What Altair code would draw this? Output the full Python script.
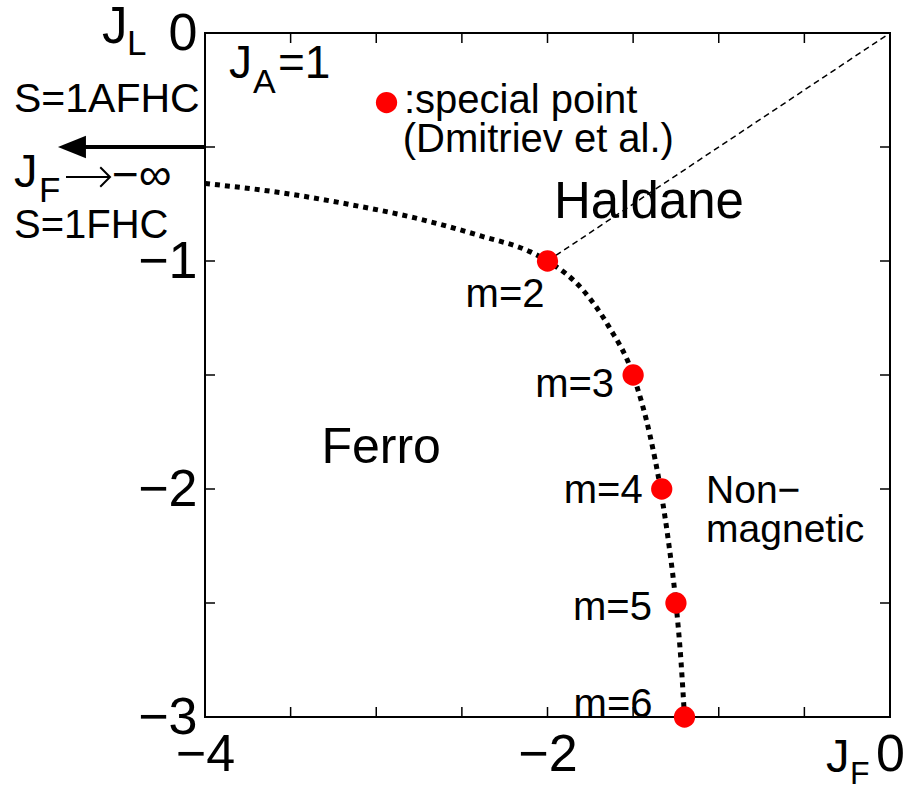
import altair as alt
import pandas as pd

FONT = "Liberation Sans"

# Phase boundary Ferro / (Haldane, non-magnetic)
boundary_jf = [-4.0, -3.56, -3.17, -2.78, -2.39, -2.10, -2.0, -1.79, -1.64,
               -1.50, -1.40, -1.34, -1.29, -1.25, -1.22, -1.20]
boundary_jl = [-0.66, -0.70, -0.75, -0.81, -0.89, -0.96, -1.0, -1.13, -1.29,
               -1.50, -1.77, -2.0, -2.25, -2.5, -2.76, -3.0]

# Haldane / non-magnetic border
haldane_jf = [-2.0, 0.0]
haldane_jl = [-1.0, 0.0]

# Special points (Dmitriev et al.)
special_m = ["m=2", "m=3", "m=4", "m=5", "m=6"]
special_jf = [-2.0, -1.5, -1.333, -1.25, -1.2]
special_jl = [-1.0, -1.5, -2.0, -2.5, -3.0]

# Legend marker
legend_jf = [-2.94]
legend_jl = [-0.305]

# Arrow towards J_F -> -inf at J_L = -0.5
arrow_jf = [-4.0, -4.72]
arrow_head_jf = [-4.777]
arrow_jl = [-0.5, -0.5]

# Axis ticks / labels
x_ticks = [-3.5, -3.0, -2.5, -2.0, -1.5, -1.0, -0.5]
y_ticks = [-0.5, -1.0, -1.5, -2.0, -2.5]
x_labels = [-4, -2, 0]
y_labels = [0, -1, -2, -3]

# In-plot text labels (data coordinates of the left end of the baseline)
region_text = ["Haldane", "Ferro", "Non\u2212", "magnetic",
               ":special point", "(Dmitriev et al.)"]
region_jf = [-1.962, -3.32, -1.074, -1.074, -2.838, -2.845]
region_jl = [-0.811, -1.886, -2.061, -2.232, -0.351, -0.52]
region_size = [51, 50, 39, 39, 40, 40]

# Pixel offsets of the m-labels relative to their points
M_OFFSET = {"m=2": (-3, 46), "m=3": (-19, 22), "m=4": (-19, 14),
            "m=5": (-24, 17), "m=6": (-32, 0)}

W, H = 685, 684
LEFT, TOP = 205, 33

xscale = alt.Scale(domain=[-4, 0], nice=False, zero=False)
yscale = alt.Scale(domain=[-3, 0], nice=False, zero=False)

xaxis = alt.Axis(values=x_labels, ticks=False, domain=False, grid=False,
                 labelFlush=False, labelOverlap=False, labelPadding=12,
                 labelFontSize=52, labelFont=FONT, labelColor="black",
                 format="d", title=None)
yaxis = alt.Axis(values=y_labels, ticks=False, domain=False, grid=False,
                 labelOverlap=False, labelPadding=8,
                 labelFontSize=52, labelFont=FONT, labelColor="black",
                 format="d", title=None)

X = alt.X("jf:Q", scale=xscale, axis=xaxis)
Y = alt.Y("jl:Q", scale=yscale, axis=yaxis)

layers = []

# inward ticks on all four sides
xt = pd.DataFrame({"jf": x_ticks})
yt = pd.DataFrame({"jl": y_ticks})
tick_style = dict(color="black", strokeWidth=1.5)
layers.append(alt.Chart(xt).mark_rule(**tick_style).encode(
    x=X, y=alt.value(0), y2=alt.value(10)))
layers.append(alt.Chart(xt).mark_rule(**tick_style).encode(
    x=X, y=alt.value(H - 10), y2=alt.value(H)))
layers.append(alt.Chart(yt).mark_rule(**tick_style).encode(
    y=Y, x=alt.value(0), x2=alt.value(10)))
layers.append(alt.Chart(yt).mark_rule(**tick_style).encode(
    y=Y, x=alt.value(W - 10), x2=alt.value(W)))

# Haldane border (thin dashed)
layers.append(alt.Chart(pd.DataFrame({"jf": haldane_jf, "jl": haldane_jl}))
              .mark_line(color="black", strokeWidth=1.5, strokeDash=[6, 4])
              .encode(x=X, y=Y))

# Ferro boundary (thick dotted)
layers.append(alt.Chart(pd.DataFrame({"jf": boundary_jf, "jl": boundary_jl}))
              .mark_line(color="black", strokeWidth=5, strokeDash=[5, 5],
                         strokeCap="butt", interpolate="monotone")
              .encode(x=X, y=Y))

# arrow to the left
layers.append(alt.Chart(pd.DataFrame({"jf": arrow_jf, "jl": arrow_jl}))
              .mark_line(color="black", strokeWidth=4)
              .encode(x=X, y=Y))
layers.append(alt.Chart(pd.DataFrame({"jf": arrow_head_jf, "jl": [-0.5]}))
              .mark_point(shape="M -1 0 L 1 -0.8 L 1 0.8 Z", size=784,
                          filled=True, color="black", opacity=1)
              .encode(x=X, y=Y))

# special points
pts = pd.DataFrame({"m": special_m, "jf": special_jf, "jl": special_jl})
layers.append(alt.Chart(pts).mark_circle(size=452, color="#ff0000", opacity=1)
              .encode(x=X, y=Y))
for m in special_m:
    dx, dy = M_OFFSET[m]
    layers.append(alt.Chart(pts).transform_filter(alt.datum.m == m)
                  .mark_text(font=FONT, fontSize=40, align="right",
                             baseline="alphabetic", color="black", dx=dx, dy=dy)
                  .encode(x=X, y=Y, text="m:N"))

# legend marker
layers.append(alt.Chart(pd.DataFrame({"jf": legend_jf, "jl": legend_jl}))
              .mark_circle(size=452, color="#ff0000", opacity=1)
              .encode(x=X, y=Y))

# region labels
reg = pd.DataFrame({"t": region_text, "jf": region_jf, "jl": region_jl,
                    "s": region_size})
for s in sorted(set(region_size)):
    layers.append(alt.Chart(reg).transform_filter(alt.datum.s == s)
                  .mark_text(font=FONT, fontSize=s, align="left",
                             baseline="alphabetic", color="black")
                  .encode(x=X, y=Y, text="t:N"))


def label(text, px, py, size, font=FONT):
    """Text placed in page pixels (left edge of baseline)."""
    return (alt.Chart(pd.DataFrame({"t": [text]}))
            .mark_text(font=font, fontSize=size, align="left",
                       baseline="alphabetic", color="black")
            .encode(x=alt.value(px - LEFT), y=alt.value(py - TOP), text="t:N"))


# thin "maps to" arrow in the J_F -> -inf note (page pixels)
one = pd.DataFrame({"k": [0]})
maps_to = [
    alt.Chart(one).mark_rule(color="black", strokeWidth=2).encode(
        x=alt.value(66 - LEFT), x2=alt.value(110 - LEFT),
        y=alt.value(177 - TOP)),
    alt.Chart(one).mark_point(shape="M -1 -1 L 0 0 L -1 1", size=380,
                              filled=False, color="black", strokeWidth=2,
                              opacity=1).encode(
        x=alt.value(110 - LEFT), y=alt.value(177 - TOP)),
]

# axis symbols and side notes
layers += maps_to + [
    label("J", 102, 43, 51), label("L", 127, 55, 35),
    label("J", 826, 772, 47), label("F", 850, 784, 32),
    label("J", 229, 78, 46), label("A", 253, 93, 34), label("=1", 278, 78, 46),
    label("S=1AFHC", 14, 112, 41),
    label("J", 14, 187, 47), label("F", 39, 202, 35),
    label("\u2212\u221e", 112, 190, 46),
    label("S=1FHC", 14, 238, 40),
]

chart = alt.layer(*layers).properties(
    width=W, height=H,
    padding={"left": LEFT, "top": TOP, "right": 903 - LEFT - W,
             "bottom": 788 - TOP - H},
    autosize=alt.AutoSizeParams(type="none"),
    background="white",
).configure_view(stroke="black", strokeWidth=2)

chart.save("out.html", embed_options={"renderer": "svg", "actions": False})
